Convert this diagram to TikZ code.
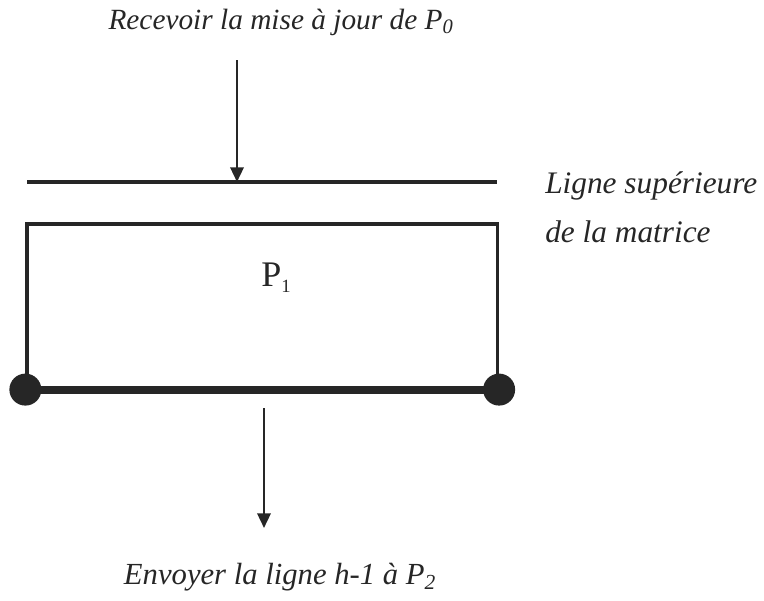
\documentclass[tikz,border=0pt]{standalone}
\usepackage{fontspec}
\setmainfont{Liberation Serif}
\usetikzlibrary{arrows.meta,positioning}
\definecolor{ink}{HTML}{262626}
\tikzset{lbl/.style={font=\itshape\fontsize{22}{26}\selectfont,inner sep=0pt,text=ink},
 flow/.style={-{Triangle[length=11pt,width=10pt]},line width=1.8pt,draw=ink},
 wire/.style={line width=2.4pt,draw=ink},
 base/.style={line width=6pt,draw=ink},
 dot/.style={circle,fill=ink,inner sep=0pt,minimum size=24pt},
 proc/.style={draw=ink,line width=2.4pt,inner sep=0pt,minimum width=352.9pt,minimum height=123pt}}
\begin{document}
\begin{tikzpicture}[x=0.75pt,y=-0.75pt]
\useasboundingbox (0,0) rectangle (764,600);
% texts
\node[lbl](recv) at(281,22){Recevoir la mise à jour de P\textsubscript{0}};
\node[lbl,anchor=west,align=left,font=\itshape\fontsize{23.5}{37}\selectfont](ligne) at(545,207){Ligne supérieure\\de la matrice};
\node[lbl,font=\itshape\fontsize{23}{27}\selectfont](send) at(280,577){Envoyer la ligne h-1 à P\textsubscript{2}};
% top row of the matrix
\coordinate(tl) at(27,182);\coordinate(tr) at(497,182);
\coordinate(src) at(237,60);\coordinate(hit) at(237,182);
\draw[wire](tl)--(tr);
\draw[flow](src)--(hit);
% process block
\node[proc](p1) at(262.25,306){};
\node[inner sep=0pt,text=ink,font=\fontsize{27}{30}\selectfont](plab) at(276,278){P\raisebox{-0.35ex}{\fontsize{14}{14}\selectfont 1}};
\draw[base](p1.south west)--(p1.south east);
\node[dot](dl) at(p1.south west){};
\node[dot](dr) at(p1.south east){};
% send down
\coordinate(out) at(264,408);\coordinate(tip) at(264,528);
\draw[flow](out)--(tip);
\end{tikzpicture}
\end{document}
